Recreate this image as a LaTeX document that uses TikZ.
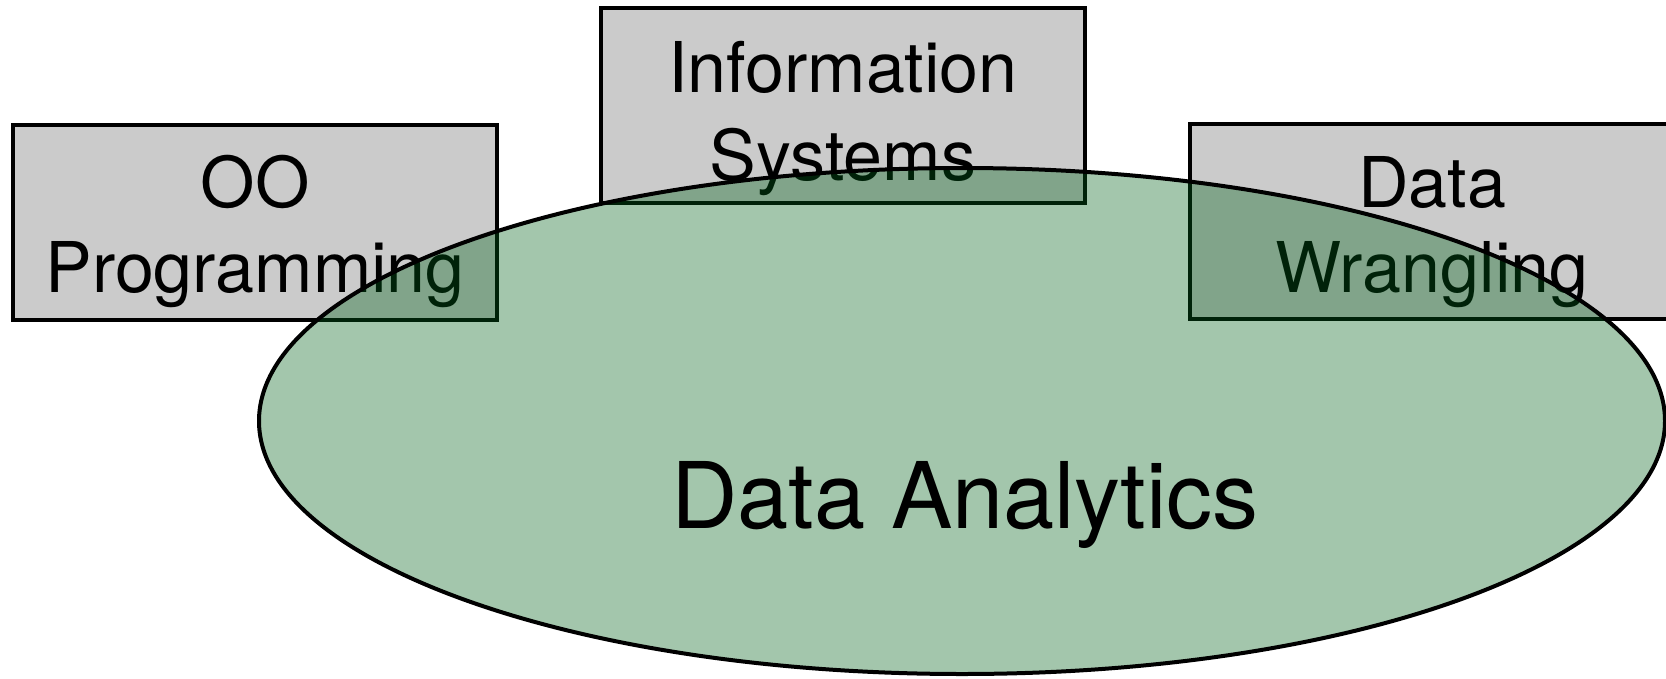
\documentclass[tikz,border=0pt]{standalone}
\usepackage{fontspec}
\setmainfont{TeX Gyre Heros}
\usetikzlibrary{shapes.geometric}
\definecolor{boxgray}{HTML}{CBCBCB}
\definecolor{areagreen}{RGB}{0,97,25}
\tikzset{
  topic/.style={draw=black, line width=4pt, fill=boxgray, rectangle,
    minimum width=484pt, minimum height=195pt, inner sep=0pt},
  topiclabel/.style={anchor=base, inner sep=0pt,
    font=\fontsize{70}{85}\selectfont},
  field/.style={ellipse, draw=black, line width=4pt, fill=areagreen,
    fill opacity=0.36, draw opacity=1, minimum width=1406pt,
    minimum height=506pt, inner sep=0pt},
  fieldlabel/.style={anchor=base, inner sep=0pt,
    font=\fontsize{92}{110}\selectfont}
}
\begin{document}
\begin{tikzpicture}[x=1pt, y=-1pt]
  \useasboundingbox (0,0) rectangle (1666,678);
  % surrounding topics
  \node[topic] (oo) at (255,222.5) {};
  \node[topiclabel] (oo1) at (255,207) {OO};
  \node[topiclabel] (oo2) at (255,292) {Programming};
  \node[topic] (is) at (843,105.5) {};
  \node[topiclabel] (is1) at (843,92) {Information};
  \node[topiclabel] (is2) at (843,180) {Systems};
  \node[topic] (dw) at (1432,221.5) {};
  \node[topiclabel] (dw1) at (1432,207) {Data};
  \node[topiclabel] (dw2) at (1432,292) {Wrangling};
  % central field, translucent over the topics
  \node[field] (da) at (962,421) {};
  \node[fieldlabel] (dal) at (965,528) {Data Analytics};
\end{tikzpicture}
\end{document}
